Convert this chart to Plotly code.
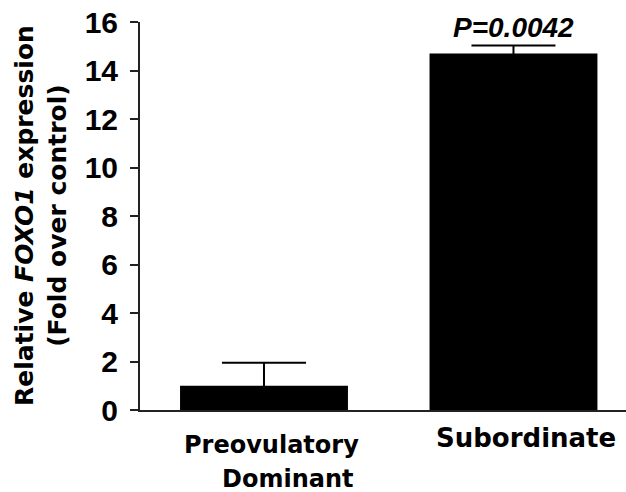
import plotly.graph_objects as go

categories = ["Preovulatory Dominant", "Subordinate"]
values = [1.0, 14.7]
errors_up = [0.95, 0.33]
y_ticks = [0, 2, 4, 6, 8, 10, 12, 14, 16]
p_label = "<b><i>P=0.0042</i></b>"

FONT = "Liberation Sans, Arial, sans-serif"
WIDE = "DejaVu Sans, sans-serif"

fig = go.Figure()
fig.add_trace(go.Bar(
    x=categories, y=values, width=0.673,
    marker=dict(color="black", line=dict(width=0)),
    error_y=dict(type="data", symmetric=True, array=errors_up,
                 color="black", thickness=2, width=42),
    showlegend=False,
))

# category labels
fig.add_annotation(x=categories[0], y=0, xref="x", yref="paper",
                   text="<b>Preovulatory</b>", showarrow=False,
                   xanchor="center", yanchor="top", xshift=8, yshift=-19,
                   font=dict(family=WIDE, size=24, color="black"))
fig.add_annotation(x=categories[0], y=0, xref="x", yref="paper",
                   text="<b>Dominant</b>", showarrow=False,
                   xanchor="center", yanchor="top", xshift=24, yshift=-53,
                   font=dict(family=WIDE, size=24, color="black"))
fig.add_annotation(x=categories[1], y=0, xref="x", yref="paper",
                   text="<b>Subordinate</b>", showarrow=False,
                   xanchor="center", yanchor="top", xshift=13, yshift=-11,
                   font=dict(family=WIDE, size=26, color="black"))
# p-value
fig.add_annotation(x=categories[1], y=values[1] + errors_up[1], xref="x", yref="y",
                   text=p_label, showarrow=False, xanchor="center", yanchor="bottom",
                   yshift=1, font=dict(family=FONT, size=28, color="black"))
# y title
fig.add_annotation(x=0, y=0.5, xref="paper", yref="paper", xshift=-99,
                   text="<b>Relative <i>FOXO1</i> expression<br>(Fold over control)</b>",
                   showarrow=False, textangle=-90, xanchor="center", yanchor="middle",
                   font=dict(family=WIDE, size=25, color="black"))

fig.update_layout(
    width=626, height=492,
    margin=dict(l=140, r=0, t=22, b=82),
    paper_bgcolor="white", plot_bgcolor="white",
    xaxis=dict(range=[-0.497, 1.451], showticklabels=False, ticks="",
               showline=True, linecolor="#222", linewidth=2, showgrid=False,
               zeroline=False, fixedrange=True, automargin=False),
    yaxis=dict(range=[0, 16], tickvals=y_ticks, ticks="outside", ticklen=8,
               tickwidth=2, tickcolor="#222", showline=True, linecolor="#222",
               linewidth=2, showgrid=False, zeroline=False, ticklabelstandoff=6,
               automargin=False, fixedrange=True,
               tickfont=dict(family=FONT, size=30, color="black", weight="bold")),
)

fig.write_html("out.html", config={"displayModeBar": False},
               post_script="document.body.style.margin='0';document.body.style.padding='0';")
